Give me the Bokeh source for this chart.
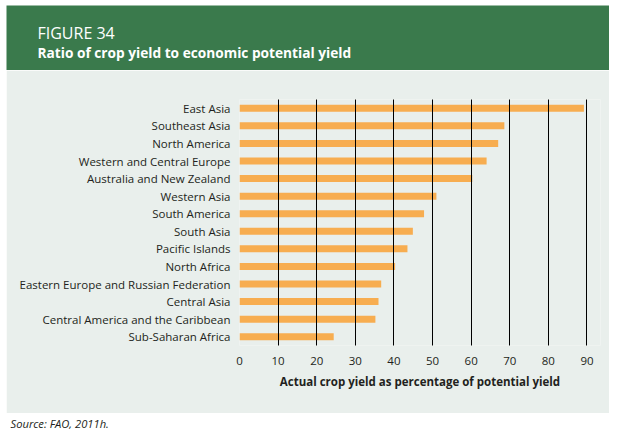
from bokeh.plotting import figure
from bokeh.models import ColumnDataSource, FactorRange, FixedTicker, Label
from bokeh.layouts import column
from bokeh.embed import file_html
from bokeh.resources import INLINE

regions = ["East Asia", "Southeast Asia", "North America", "Western and Central Europe",
           "Australia and New Zealand", "Western Asia", "South America", "South Asia",
           "Pacific Islands", "North Africa", "Eastern Europe and Russian Federation",
           "Central Asia", "Central America and the Caribbean", "Sub-Saharan Africa"]
ratio = [89.2, 68.6, 67.0, 64.0, 60.3, 51.0, 47.8, 44.9, 43.5, 40.3, 36.7, 36.0, 35.2, 24.4]
x_ticks = [0, 10, 20, 30, 40, 50, 60, 70, 80, 90]

GREEN = "#3a7a4c"
PANEL = "#e9efec"
ORANGE = "#f7ad50"
TEXT = "#231f20"
FONT = "Open Sans"
W = 603

# ---- header ----
hdr = figure(width=W, height=65, output_backend="svg", toolbar_location=None,
             x_axis_type=None, y_axis_type=None, x_range=(0, 1), y_range=(0, 1),
             min_border=0, frame_align=False)
hdr.background_fill_color = GREEN
hdr.border_fill_color = GREEN
hdr.outline_line_color = None
hdr.xgrid.grid_line_color = None
hdr.ygrid.grid_line_color = None
hdr.add_layout(Label(x=31, y=38, x_units="screen", y_units="screen", text="FIGURE 34",
                     text_font=FONT, text_font_size="16px", text_color="white",
                     text_baseline="middle"))
hdr.add_layout(Label(x=31, y=18, x_units="screen", y_units="screen",
                     text="Ratio of crop yield to economic potential yield",
                     text_font=FONT, text_font_size="13.7px", text_font_style="bold",
                     text_color="white", text_baseline="middle"))

# ---- main chart ----
src = ColumnDataSource(dict(region=regions, ratio=ratio))
p = figure(width=W, height=343, output_backend="svg", toolbar_location=None,
           y_range=FactorRange(*list(reversed(regions))), x_range=(0, 93.5),
           min_border_left=233, min_border_right=9, min_border_top=29, min_border_bottom=68,
           frame_align=False)
p.background_fill_color = PANEL
p.border_fill_color = PANEL
p.outline_line_color = None

p.hbar(y="region", right="ratio", left=0, height=0.4, source=src,
       fill_color=ORANGE, line_color=None)

p.xaxis.ticker = FixedTicker(ticks=x_ticks)
p.xgrid.ticker = FixedTicker(ticks=x_ticks)
p.xgrid.grid_line_color = "black"
p.xgrid.grid_line_alpha = 1
p.xgrid.grid_line_width = 1
p.xgrid.level = "overlay"
p.ygrid.grid_line_color = None

for ax in (p.xaxis[0], p.yaxis[0]):
    ax.axis_line_color = None
    ax.major_tick_line_color = None
    ax.minor_tick_line_color = None
    ax.major_label_text_font = FONT
    ax.major_label_text_color = TEXT
    ax.major_label_text_font_size = "11.5px"

p.yaxis.major_label_standoff = 3
p.xaxis.major_label_standoff = 5
p.xaxis.axis_label = "Actual crop yield as percentage of potential yield"
p.xaxis.axis_label_text_font = FONT
p.xaxis.axis_label_text_font_style = "bold"
p.xaxis.axis_label_text_font_size = "11.5px"
p.xaxis.axis_label_text_color = TEXT
p.xaxis.axis_label_standoff = 6

# ---- source note ----
note = figure(width=W, height=18, output_backend="svg", toolbar_location=None,
              x_axis_type=None, y_axis_type=None, x_range=(0, 1), y_range=(0, 1),
              min_border=0, frame_align=False)
note.background_fill_color = "white"
note.border_fill_color = "white"
note.outline_line_color = None
note.xgrid.grid_line_color = None
note.ygrid.grid_line_color = None
note.add_layout(Label(x=4, y=8, x_units="screen", y_units="screen",
                      text="Source: FAO, 2011h.", text_font=FONT, text_font_size="11.2px",
                      text_font_style="italic", text_color=TEXT, text_baseline="middle"))

layout = column(hdr, p, note, spacing=0, margin=(5, 0, 0, 6))
open("out.html", "w").write(file_html(layout, INLINE))
